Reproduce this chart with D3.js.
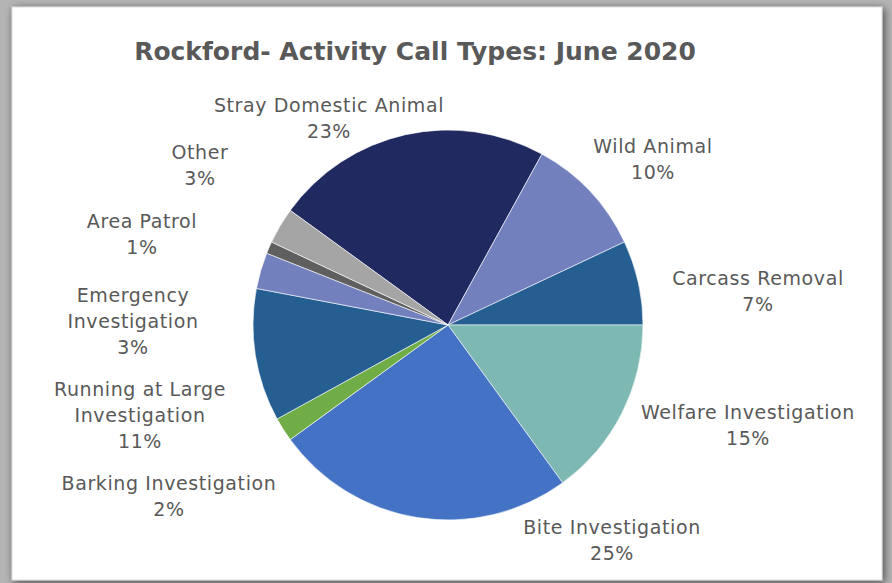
<!DOCTYPE html>
<html><head><meta charset="utf-8">
<script src="https://cdn.jsdelivr.net/npm/d3@7"></script>
<style>body{margin:0;background:#fff;} svg{display:block;}</style>
</head><body>
<svg id="c" width="892" height="583"></svg>
<script>
const title = "Rockford- Activity Call Types: June 2020";
const categories = ["Stray Domestic Animal","Wild Animal","Carcass Removal","Welfare Investigation","Bite Investigation","Barking Investigation","Running at Large Investigation","Emergency Investigation","Area Patrol","Other"];
const values = [23,10,7,15,25,2,11,3,1,3];
const colors = ["#202A60","#7380BE","#255E91","#7DB8B2","#4472C4","#70AD47","#255E91","#7380BE","#5F5F5F","#A5A5A5"];
const labelLines = [["Stray Domestic Animal","23%"],["Wild Animal","10%"],["Carcass Removal","7%"],["Welfare Investigation","15%"],["Bite Investigation","25%"],["Barking Investigation","2%"],["Running at Large","Investigation","11%"],["Emergency","Investigation","3%"],["Area Patrol","1%"],["Other","3%"]];
const labelPos = [[329,105],[653,146],[758,278],[748,412],[612,527],[169,483],[140,389],[133,295],[142,221],[200,152]];

const svg = d3.select("#c");
const defs = svg.append("defs");
const f = defs.append("filter").attr("id","sh").attr("x","-5%").attr("y","-5%").attr("width","110%").attr("height","110%");
f.append("feGaussianBlur").attr("in","SourceAlpha").attr("stdDeviation",4).attr("result","b");
f.append("feOffset").attr("in","b").attr("dx",2).attr("dy",2).attr("result","o");
f.append("feComponentTransfer").attr("in","o").attr("result","o2").append("feFuncA").attr("type","linear").attr("slope",0.6);
const m = f.append("feMerge"); m.append("feMergeNode").attr("in","o2"); m.append("feMergeNode").attr("in","SourceGraphic");

svg.append("rect").attr("x",0).attr("y",0).attr("width",892).attr("height",583).attr("fill","#b4b4b4");
svg.append("rect").attr("x",12).attr("y",7).attr("width",870).attr("height",573).attr("fill","#fff").attr("stroke","#d9d9d9").attr("stroke-width",1).attr("filter","url(#sh)");

svg.append("text").attr("x",415).attr("y",60).attr("text-anchor","middle")
  .attr("font-family","'DejaVu Sans', sans-serif").attr("font-weight","bold").attr("font-size",25)
  .attr("fill","#595959").text(title);

const cx = 448, cy = 325, r = 195;
const pie = d3.pie().sort(null).value(d=>d).startAngle(-0.15*2*Math.PI).endAngle(0.85*2*Math.PI);
const arc = d3.arc().innerRadius(0).outerRadius(r);
const g = svg.append("g").attr("transform",`translate(${cx},${cy})`);
g.selectAll("path").data(pie(values)).join("path")
  .attr("d",arc).attr("fill",(d,i)=>colors[i]).attr("stroke","#fff").attr("stroke-width",0.6);

const lg = svg.append("g").attr("font-family","'DejaVu Sans', sans-serif").attr("font-size",19).attr("letter-spacing",0.6).attr("fill","#595959");
labelLines.forEach((lines,i)=>{
  const [x,y] = labelPos[i];
  const t = lg.append("text").attr("text-anchor","middle");
  lines.forEach((s,j)=>{
    t.append("tspan").attr("x",x).attr("y",y+j*26).attr("dy","0.35em").text(s);
  });
});
</script>
</body></html>
